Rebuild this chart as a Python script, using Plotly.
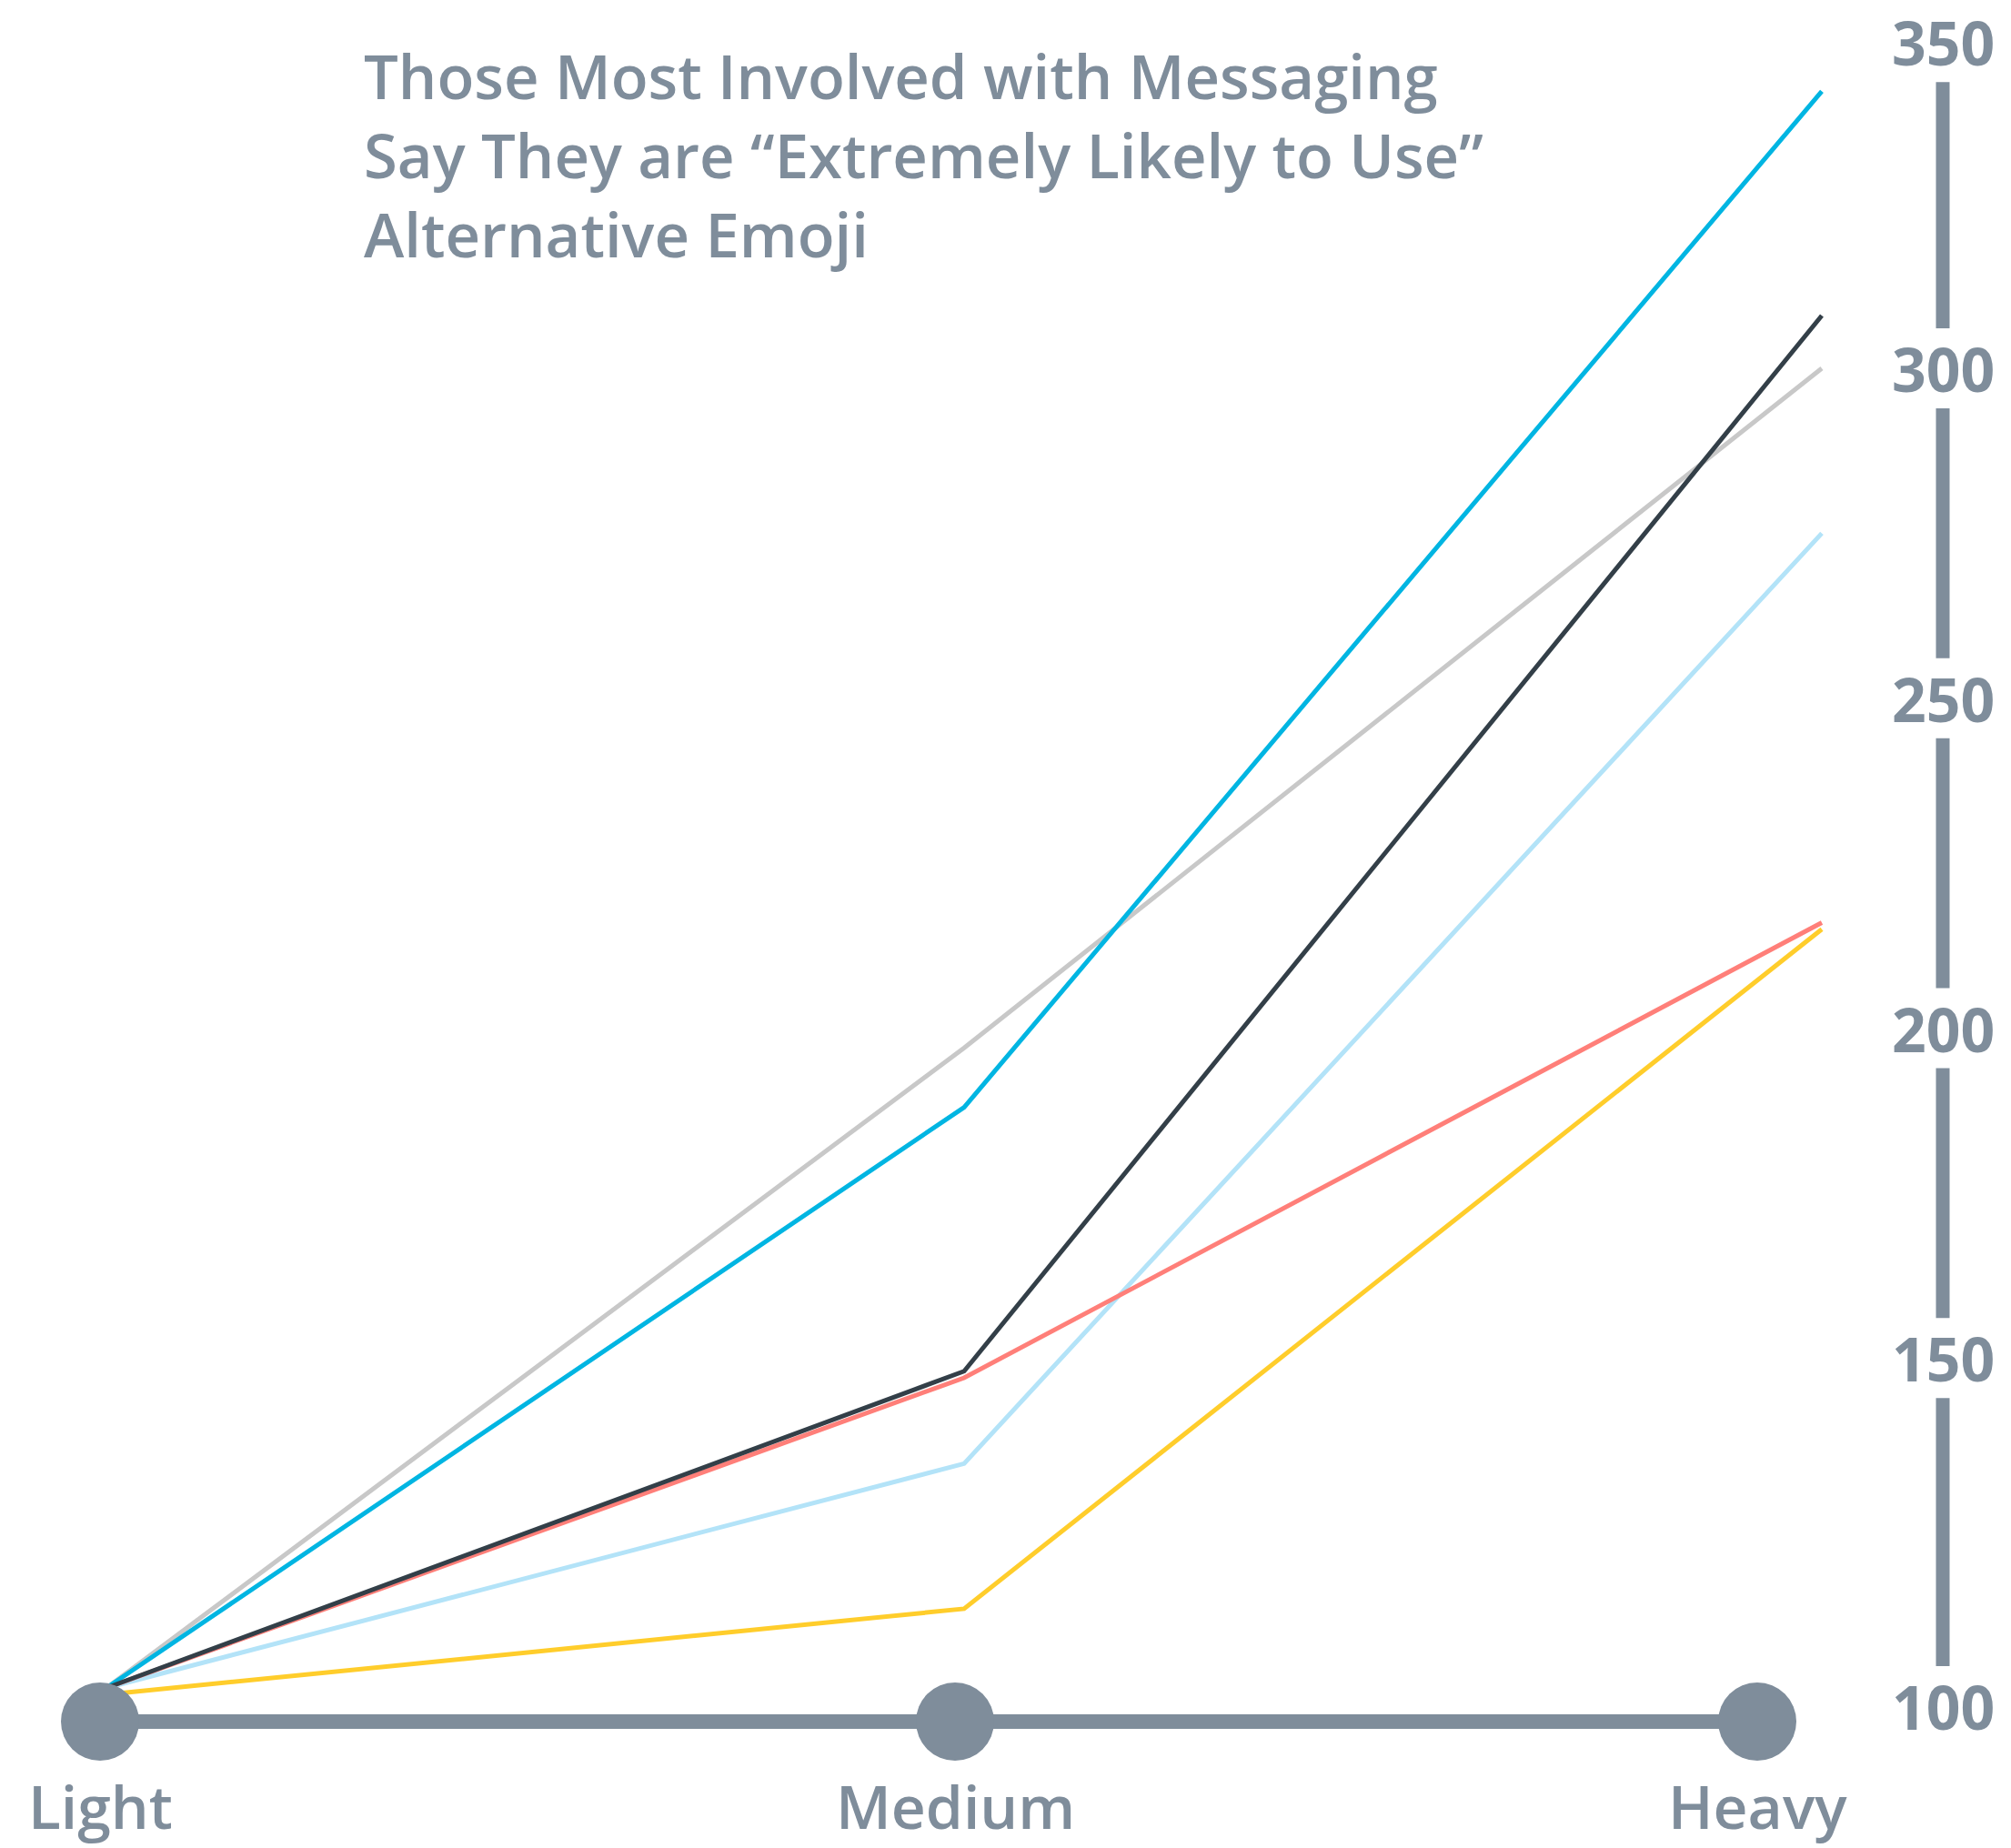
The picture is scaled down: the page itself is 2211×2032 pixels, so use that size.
import plotly.graph_objects as go

# ---- data -------------------------------------------------------------
stages = ["Light", "Medium", "Heavy"]
stage_pos = [0, 1, 2]

gray_series = [100, 197, 300]
light_blue_series = [100, 134, 275]
yellow_series = [99, 112, 215]
salmon_series = [100, 147, 216]
blue_series = [100, 188, 342]
dark_series = [100, 148, 308]

tick_values = [100, 150, 200, 250, 300, 350]
tick_labels = ["100", "150", "200", "250", "300", "350"]

title_lines = [
    "Those Most Involved with Messaging",
    "Say They are “Extremely Likely to Use”",
    "Alternative Emoji",
]

# ---- styling ----------------------------------------------------------
W, H = 2211, 2032
SLATE = "#7F8D9B"
FONT = "Open Sans"

# axis mapping (pixels of the canvas)
x_px0, x_unit = 117, 943          # stage 0 at 117px, one stage = 943px
y_px100, y_unit = 1856, 7.255     # value 100 at 1856px, one unit = 7.255px

x_range = [-x_px0 / x_unit, (W - x_px0) / x_unit]
y_range = [100 - (H - y_px100) / y_unit, 100 + y_px100 / y_unit]


def y_from_px(py):
    return 100 + (y_px100 - py) / y_unit


def x_from_px(px):
    return (px - x_px0) / x_unit


series = [
    (gray_series, "#C8C8C8"),
    (light_blue_series, "#B3E3F8"),
    (yellow_series, "#FFCD2B"),
    (salmon_series, "#FF7F79"),
    (blue_series, "#00B5E2"),
    (dark_series, "#333F48"),
]

fig = go.Figure()
for values, color in series:
    fig.add_trace(go.Scatter(
        x=stage_pos, y=values, mode="lines",
        line=dict(color=color, width=5),
        hoverinfo="skip", showlegend=False,
    ))

shapes = []
annotations = []

# bottom stage axis: bar with dots
base_y = y_from_px(1893)
dot_shift = [-7, -10, -71]
dot_r = 43
shapes.append(dict(
    type="line", xref="x", yref="y",
    x0=x_from_px(110), x1=x_from_px(1932), y0=base_y, y1=base_y,
    line=dict(color=SLATE, width=16), layer="above",
))
for pos, dx in zip(stage_pos, dot_shift):
    shapes.append(dict(
        type="circle", xref="x", yref="y",
        xsizemode="pixel", ysizemode="pixel",
        xanchor=pos, yanchor=base_y,
        x0=dx - dot_r, x1=dx + dot_r, y0=-dot_r, y1=dot_r,
        fillcolor=SLATE, line=dict(width=0), layer="above",
    ))
for pos, dx, name in zip(stage_pos, dot_shift, stages):
    annotations.append(dict(
        x=pos, y=y_from_px(2032), xref="x", yref="y",
        text=name, showarrow=False, xshift=dx,
        xanchor="center", yanchor="bottom",
        font=dict(family=FONT, size=66, color=SLATE, weight=600),
    ))

# right value axis: labels with bar segments between them
axis_x = x_from_px(2136)
label_shift = {100: -20, 350: -4}
gap_px = 44
label_px = [y_px100 - (v - 100) * y_unit - label_shift.get(v, 0) for v in tick_values]
for v, t in zip(tick_values, tick_labels):
    annotations.append(dict(
        x=axis_x, y=v, xref="x", yref="y",
        text=f"<b>{t}</b>", showarrow=False, yshift=label_shift.get(v, 0),
        xanchor="center", yanchor="middle",
        font=dict(family=FONT, size=66, color=SLATE),
    ))
for lo_px, hi_px in zip(label_px[:-1], label_px[1:]):
    shapes.append(dict(
        type="line", xref="x", yref="y",
        x0=axis_x, x1=axis_x,
        y0=y_from_px(lo_px - gap_px), y1=y_from_px(hi_px + gap_px),
        line=dict(color=SLATE, width=15),
    ))

# headline, one block so the lines share a single text box
annotations.append(dict(
    x=x_from_px(398), y=y_from_px(170), xref="x", yref="y",
    text="<br>".join(title_lines), showarrow=False,
    xanchor="left", yanchor="middle", align="left",
    font=dict(family=FONT, size=67, color=SLATE, weight=600),
))

fig.update_layout(
    width=W, height=H, autosize=False,
    margin=dict(l=0, r=0, t=0, b=0),
    paper_bgcolor="white", plot_bgcolor="white",
    xaxis=dict(range=x_range, visible=False, fixedrange=True),
    yaxis=dict(range=y_range, visible=False, fixedrange=True),
    shapes=shapes, annotations=annotations,
)

fig.write_html("out.html")
